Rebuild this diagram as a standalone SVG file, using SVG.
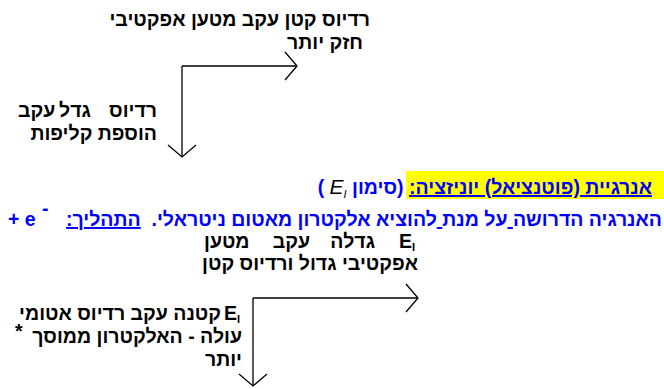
<svg xmlns="http://www.w3.org/2000/svg" width="664" height="389" viewBox="0 0 664 389">
  <style>
    text { font-family: "Liberation Sans", Arial, sans-serif; }
    .he { font-weight: bold; font-size: 19.5px; fill: #000; }
    .blue { font-weight: bold; font-size: 19.5px; fill: #0000ff; }
    .rtl { direction: rtl; text-anchor: start; }
    .ul { text-decoration: underline; }
    .sub { font-size: 11px; }
    .conn { fill: none; stroke: #000; stroke-width: 1.3; }
  </style>
  <defs>
    <!-- open chevron arrowhead shared by all connectors -->
    <marker id="arrow" markerUnits="userSpaceOnUse" markerWidth="30" markerHeight="30" refX="14" refY="15" orient="auto" viewBox="0 0 30 30">
      <path d="M2,1 L14,15 L2,29" fill="none" stroke="#000" stroke-width="1.3"/>
    </marker>
  </defs>
  <rect width="664" height="389" fill="#fff"/>

  <g id="connectors">
    <path class="conn" d="M182,66 H297" marker-end="url(#arrow)"/>
    <path class="conn" d="M182,66 V157" marker-end="url(#arrow)"/>
    <path class="conn" d="M253,298 H418" marker-end="url(#arrow)"/>
    <path class="conn" d="M253,298 V386" marker-end="url(#arrow)"/>
  </g>

  <g id="radius-small">
    <text class="he rtl" x="370" y="26">רדיוס קטן עקב מטען אפקטיבי</text>
    <text class="he rtl" x="363" y="49">חזק יותר</text>
  </g>

  <g id="radius-large">
    <text class="he rtl" x="157" y="117">רדיוס</text>
    <text class="he" x="75" y="117" text-anchor="middle">גדל</text>
    <text class="he" x="18" y="117">עקב</text>
    <text class="he rtl" x="157" y="140">הוספת קליפות</text>
  </g>

  <g id="title">
    <rect x="406" y="171" width="258" height="28" fill="#ffff00"/>
    <text class="blue rtl" x="652" y="194" xml:space="preserve"><tspan class="ul">אנרגיית (פוטנציאל) יוניזציה:</tspan> (סימון <tspan fill="#000" font-weight="normal" font-style="italic" font-size="21">E</tspan><tspan fill="#000" font-weight="normal" font-style="italic" class="sub" dy="4">I</tspan><tspan dy="-4"> )</tspan></text>
  </g>

  <g id="definition">
    <text class="blue rtl" x="662" y="226" xml:space="preserve">האנרגיה הדרושה<tspan class="ul"> </tspan>על מנת<tspan class="ul"> </tspan>להוציא אלקטרון מאטום ניטראלי.  <tspan class="ul">התהליך:</tspan></text>
    <text class="blue" x="8" y="226">+ e</text>
    <text class="blue" x="42" y="215" font-size="11">-</text>
  </g>

  <g id="ei-grows">
    <text class="he" x="399" y="248">E</text>
    <text class="he sub" x="412" y="251">I</text>
    <text class="he rtl" x="375" y="248">גדלה</text>
    <text class="he rtl" x="310" y="248">עקב</text>
    <text class="he" x="204" y="248">מטען</text>
    <text class="he rtl" x="418" y="270">אפקטיבי גדול ורדיוס קטן</text>
  </g>

  <g id="ei-shrinks">
    <text class="he" x="224" y="320">E</text>
    <text class="he sub" x="237" y="323">I</text>
    <text class="he rtl" x="221" y="320">קטנה עקב רדיוס אטומי</text>
    <text class="he rtl" x="242" y="343">עולה - האלקטרון ממוסך</text>
    <text class="he" x="15" y="338" font-size="11">*</text>
    <text class="he rtl" x="242" y="366">יותר</text>
  </g>
</svg>
